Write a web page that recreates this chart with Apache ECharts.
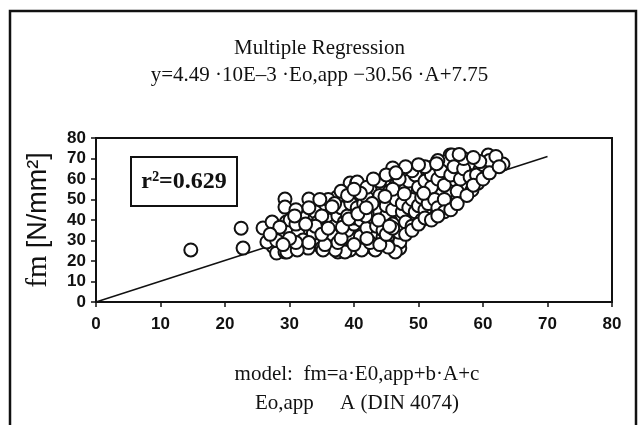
<!DOCTYPE html>
<html>
<head>
<meta charset="utf-8">
<script src="https://cdn.jsdelivr.net/npm/echarts@6/dist/echarts.min.js"></script>
<style>html,body{margin:0;padding:0;background:#fff}#c{width:639px;height:425px}</style>
</head>
<body>
<div id="c"></div>
<script>
// Eo,app (x) values, tick labels and fm (y) values
const xTicks = [0, 10, 20, 30, 40, 50, 60, 70, 80];
const yTicks = [0, 10, 20, 30, 40, 50, 60, 70, 80];
const regressionLine = [[0, 0], [70, 71]];
const samplePoints = [
[14.7,25.4],[22.5,36],[22.8,26.3],
[25.9,36.1],[27.3,39],[29.3,50.2],[29.3,46.3],[29.5,39],[30,35],[27.5,27],[28,23.9],[29.3,24.4],[31.1,26.3],[32.9,26.3],[33,50.2],[32.2,35],[33.7,41.5],[34.2,30],
[30.1,40],[28.2,33.6],[31.3,33.6],[35,47.3],[34,44],[34.4,39],[35.5,35],[37.4,51.2],[36.7,44.9],[39.4,58],[40.4,58],[32.1,30.2],[33.7,33.6],[29.6,24.4],[31.2,25.4],[35,26.3],[36.7,30.2],[37.5,24.4],[38.3,33.6],[39.4,25.4],[26.5,29.3],
[54.9,71.7],[54.1,68.3],[52.2,65.9],[50.5,62.9],[46,65.4],[47.9,62.9],[45.6,58.5],[40.5,58.5],[44,56],[42.5,54.6],[40.9,50.7],[39.8,44.9],[41.4,44.9],[43.3,46.3],[45.1,49.8],[47.1,51.2],[49.1,53.2],[51.3,54.6],[53.3,52.2],[54.9,54.6],[52.1,43.9],[50.2,43.4],[48.7,41],[47.1,41.5],[45.6,40],[44,38.5],[42.5,38.5],[40.9,35],[43,33.6],[44.5,31.7],[47.1,30.2],[45.6,26.8],[47.1,26.3],[43,26.3],[41.4,26.8],[39.8,30.2],
[60.8,71.7],[61.9,66.8],[63.1,67.3],[57.2,68.3],[58.3,67.8],[57.2,63.4],[59.5,64.4],[55.7,59.5],[56.9,57],[59.2,58],[58.3,54.6],[56.1,50.7],[54.9,47.3],[55.2,71.7],
[47.1,29.3],[46.4,24.4],[45.3,26.8],[43.3,25.4],[41.2,25.4],[38.6,24.4],[37.1,25.4],[35.2,25.4],
[36,40],[37,37],[37.5,42],[38,46],[38.5,39],[39,35],[39,42],[39.5,48],[40,38],[40,41],[40.5,46],[41,32],[41,40],[41.5,48],[42,36],[42,43],[42,51],[42.5,29],[43,41],[43.5,49],[43.5,37],[44,44],[44,52],[44.5,35],[45,42],[45,47],[45.5,54],[46,38],[46,45],[46.5,50],[46.5,57],[47,34],[47.5,44],[47.5,48],[48,39],[48,55],[48.5,46],[48.5,59],[49,37],[49,50],[49.5,44],[49.5,62],[50,47],[50,56],[50.5,40],[50.5,51],[51,59],[51,45],[51.5,48],[52,62],[52,56],[52.5,50],[53,46],[53,60],[53.5,64],[54,57],[54,50],[55,62],[55.5,66],[56,54],[56.5,60],[57,65],[58,61],[59,62],[60,67],[61,69],[62,71],[53,69],[57,70],[51,66],[49,64],[47,60],[44,59],[42,56],[38,54],[36,50],[35,42],[34,37],[36.5,33],[37.5,29],[35.5,28],[33,29],[31,29],[30,31],[31,38],[32,42],[33,46],[31,45],[35,33],[36,36],[38,31],[40,28],[42,31],[44,28],[45,33],[46,36],[48,33],[49,35],[50,38],[51,41],[52,40],[54,44],[55,45],[53,42],[41,53],[43,60],[45,62],[46,55],[39,52],[37,48],[40,55],[44.8,51.5],[47.8,52.8],[50.8,53],[42.8,48],[41.8,42],[43.8,40],[45.5,37],[38.2,36.5],[39.2,40.5],[40.6,43],[41.9,46],[36.6,46.5],[34.7,50],[32.5,38],[30.8,42],[28.5,36.5],[28,30],[27,33],[29,28],[56,48],[57.5,52],[58.5,57],[60,60],[61,63],[62.5,66],[59.5,68.5],[56.3,72],[58.5,70.5],[52.8,67.5],[50,67],[48,66],[46.5,63]
];
const titleLine1 = 'Multiple Regression';
const titleLine2 = 'y=4.49 \u00b710E\u20133 \u00b7Eo,app \u221230.56 \u00b7A+7.75';
const modelLine1 = 'model:  fm=a\u00b7E0,app+b\u00b7A+c';
const modelLine2 = 'Eo,app     A (DIN 4074)';
const rSquaredText = 'r\u00b2=0.629';

const chart = echarts.init(document.getElementById('c'), null, {renderer: 'canvas'});
const serif = '"Liberation Serif", "DejaVu Serif", serif';
const sans = '"Liberation Sans", Arial, sans-serif';
chart.setOption({
  animation: false,
  backgroundColor: '#fff',
  title: [
    {text: titleLine1, left: 'center', top: 33, textStyle: {fontFamily: serif, fontSize: 21, fontWeight: 'normal', color: '#111'}},
    {text: titleLine2, left: 'center', top: 60, textStyle: {fontFamily: serif, fontSize: 21, fontWeight: 'normal', color: '#111'}},
    {text: modelLine1, left: 352, textAlign: 'center', top: 359, textStyle: {fontFamily: serif, fontSize: 21, fontWeight: 'normal', color: '#111'}},
    {text: modelLine2, left: 352, textAlign: 'center', top: 388, textStyle: {fontFamily: serif, fontSize: 21, fontWeight: 'normal', color: '#111'}}
  ],
  grid: {left: 96, right: 27, top: 138, bottom: 123, show: true, borderColor: '#111', borderWidth: 2, backgroundColor: 'transparent'},
  xAxis: {
    type: 'value', min: 0, max: 80, interval: 10,
    axisLine: {show: true, onZero: false, lineStyle: {color: '#111', width: 2}},
    axisTick: {show: true, inside: false, length: 5, lineStyle: {color: '#111', width: 1.5}},
    splitLine: {show: false},
    axisLabel: {fontFamily: sans, fontSize: 17, color: '#111', margin: 14, fontWeight: 'bold',
      formatter: v => xTicks.includes(v) ? String(v) : ''}
  },
  yAxis: {
    type: 'value', min: 0, max: 80, interval: 10,
    name: '{a|fm }{b|[N/mm\u00b2]}', nameLocation: 'middle', nameGap: 43, nameRotate: 90,
    nameTextStyle: {rich: {a: {fontFamily: serif, fontSize: 29, color: '#111'}, b: {fontFamily: sans, fontSize: 27, color: '#111'}}},
    axisLine: {show: true, onZero: false, lineStyle: {color: '#111', width: 2}},
    axisTick: {show: true, inside: false, length: 5, lineStyle: {color: '#111', width: 1.5}},
    splitLine: {show: false},
    axisLabel: {fontFamily: sans, fontSize: 17, color: '#111', margin: 10, fontWeight: 'bold',
      formatter: v => yTicks.includes(v) ? String(v) : ''}
  },
  graphic: [
    {type: 'rect', shape: {x: 10, y: 11, width: 626, height: 430}, style: {fill: 'none', stroke: '#111', lineWidth: 2.5}, z: 0},
    {type: 'rect', shape: {x: 131, y: 157, width: 106, height: 49}, style: {fill: '#fff', stroke: '#111', lineWidth: 2}, z: 10},
    {type: 'text', x: 184, y: 182, style: {text: rSquaredText, fill: '#111', font: 'bold 24px ' + serif, textAlign: 'center', textVerticalAlign: 'middle'}, z: 11}
  ],
  series: [
    {type: 'line', data: regressionLine, showSymbol: false, symbol: 'none', lineStyle: {color: '#111', width: 1.5}, z: 2, silent: true},
    {type: 'scatter', data: samplePoints, symbol: 'circle', symbolSize: 13,
      itemStyle: {color: '#fff', borderColor: '#111', borderWidth: 2, opacity: 1}, z: 3, silent: true}
  ]
});
</script>
</body>
</html>
